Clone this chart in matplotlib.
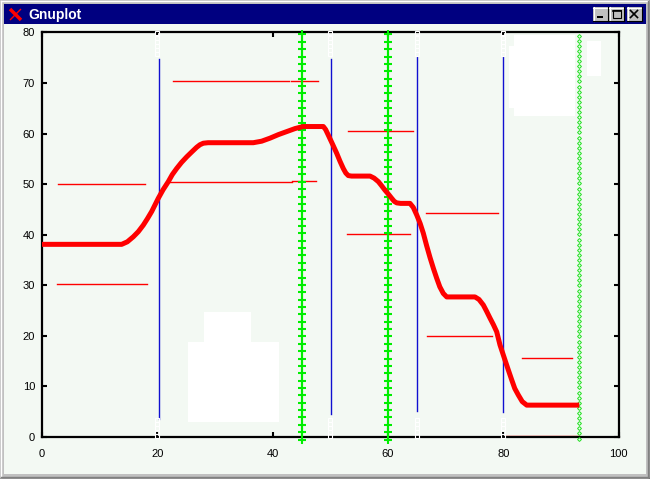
import numpy as np
import matplotlib
matplotlib.use("Agg")
import matplotlib.pyplot as plt
from matplotlib.patches import Rectangle


# thick red curve
curve_x = [0.0, 13.82, 14.8, 15.84, 16.7, 17.57, 18.3, 19.03, 20.17, 21.0, 21.91, 22.6,
           23.36, 24.2, 25.1, 26.0, 26.83, 27.4, 27.98, 28.8, 36.65, 38.1, 39.55, 41.0,
           42.45, 43.9, 45.3, 48.8, 49.2, 49.66, 50.4, 51.12, 51.7, 52.26, 52.7, 53.13,
           53.7, 56.9, 57.6, 58.34, 58.9, 59.5, 60.1, 60.66, 61.1, 61.53, 62.2, 63.83,
           64.4, 65.0, 65.6, 66.14, 66.7, 67.3, 67.9, 68.46, 69.0, 69.6, 70.2, 70.9,
           75.1, 75.8, 76.55, 77.1, 77.71, 78.3, 78.87, 79.44, 80.31, 80.9, 81.47, 82.0,
           82.62, 83.3, 84.08, 92.75]
curve_y = [38.1, 38.1, 38.6, 39.6, 40.6, 41.9, 43.2, 44.6, 47.2, 48.9, 50.5, 51.9,
           53.1, 54.3, 55.4, 56.4, 57.3, 57.8, 58.1, 58.2, 58.2, 58.5, 59.1, 59.8,
           60.4, 61.0, 61.4, 61.4, 60.8, 59.7, 57.9, 56.1, 54.5, 53.1, 52.2, 51.7,
           51.6, 51.6, 51.2, 50.5, 49.7, 48.8, 48.0, 47.2, 46.6, 46.3, 46.2, 46.2,
           45.4, 43.9, 42.2, 40.3, 37.9, 35.5, 33.3, 31.4, 29.7, 28.4, 27.7, 27.7,
           27.7, 27.2, 26.1, 24.9, 23.5, 22.2, 20.8, 18.2, 15.2, 13.2, 11.3, 9.6,
           8.3, 7.0, 6.3, 6.3]

# thin blue verticals
vline_x = [20.35, 50.15, 65.0, 80.0]
vline_top = [74.8, 74.8, 75.2, 75.2]
vline_bottom = [3.6, 4.5, 5.1, 4.9]

# white tick-like marks
mark_x = [20, 50, 65, 80]

# green verticals
green_plus_x = [45.15, 60.0]
green_dot_x = [93.2]

# thin red horizontal segments
seg_x0 = [2.7, 2.6, 22.7, 43.2, 22.2, 43.4, 53.0, 52.9, 66.6, 66.8, 83.3, 80.3]
seg_x1 = [17.8, 18.3, 42.8, 47.8, 43.4, 47.6, 64.3, 63.8, 79.05, 78.0, 91.9, 93.15]
seg_y = [50.1, 30.2, 70.35, 70.35, 50.4, 50.6, 60.5, 40.15, 44.2, 20.0, 15.55, 0.1]

xticks = [0, 20, 40, 60, 80, 100]
yticks = [0, 10, 20, 30, 40, 50, 60, 70, 80]

CLIENT = "#f3f9f3"
GRAY = "#c0c0c0"

fig = plt.figure(figsize=(6.5, 4.79), dpi=100, facecolor=GRAY)

#######################################################################################################
# window chrome, in pixel coordinates

win = fig.add_axes([0, 0, 1, 1])
win.set_xlim(0, 650)
win.set_ylim(479, 0)
win.axis("off")

win.add_patch(Rectangle((4, 24), 642, 450, color=CLIENT, lw=0))
win.add_patch(Rectangle((4, 4), 642, 20, color="#000080", lw=0))
win.plot([1, 648], [1, 1], color="white", lw=1)
win.plot([1, 1], [1, 477], color="white", lw=1)
win.plot([1, 648], [477, 477], color="#808080", lw=1)
win.plot([648, 648], [1, 477], color="#808080", lw=1)
win.plot([0, 650], [478.5, 478.5], color="black", lw=1)
win.plot([649.5, 649.5], [0, 479], color="black", lw=1)

# icon
win.plot([10, 21], [9, 20], color="red", lw=2.5, solid_capstyle="butt")
win.plot([21, 10], [9, 20], color="red", lw=1.0, solid_capstyle="butt")
win.text(28, 14.5, "Gnuplot", color="white", fontsize=10, fontweight="bold",
         family="Liberation Sans", va="center", ha="left")

# buttons
for bx in [593, 609, 627]:
    win.add_patch(Rectangle((bx, 7), 15, 14, facecolor=GRAY, edgecolor="none"))
    win.plot([bx, bx + 15], [7.5, 7.5], color="white", lw=0.8)
    win.plot([bx + 0.5, bx + 0.5], [7, 21], color="white", lw=0.8)
    win.plot([bx, bx + 15], [20.5, 20.5], color="black", lw=0.8)
    win.plot([bx + 14.5, bx + 14.5], [7, 21], color="black", lw=0.8)
win.add_patch(Rectangle((597, 16), 6, 2, color="black", lw=0))
win.add_patch(Rectangle((612.5, 10), 8, 7.5, facecolor="none", edgecolor="black", lw=0.8))
win.plot([612.5, 620.5], [10.5, 10.5], color="black", lw=1.2)
win.plot([630.5, 637.5], [10.5, 17.5], color="black", lw=1.2)
win.plot([637.5, 630.5], [10.5, 17.5], color="black", lw=1.2)

#######################################################################################################
# plot

ax = fig.add_axes([0.0646, 0.0877, 0.887, 0.8445])
ax.set_facecolor(CLIENT)
ax.set_xlim(0, 100)
ax.set_ylim(0, 80)

# white blotches
for x0, y0, w, h in [(81.9, 63.5, 10.6, 16.0), (81.0, 65.1, 1.0, 12.2), (94.5, 71.4, 2.5, 6.9),
                     (28.1, 18.8, 8.2, 5.9), (25.3, 3.0, 15.8, 15.8)]:
    ax.add_patch(Rectangle((x0, y0), w, h, color="white", lw=0, zorder=0.5))

for x, t, b in zip(vline_x, vline_top, vline_bottom):
    ax.plot([x, x], [b, t], color="#1010d0", lw=1.0, zorder=2)

for x0, x1, y in zip(seg_x0, seg_x1, seg_y):
    ax.plot([x0, x1], [y, y], color="red", lw=1.0, zorder=2, clip_on=False)

for x in green_plus_x:
    ys = np.linspace(-0.5, 79.6, 56)
    ax.plot([x] * len(ys), ys, color="#00ee00", lw=1.5, marker="+", ms=6, mew=1.5,
            zorder=3, clip_on=False)

for x in green_dot_x:
    ys = np.linspace(-0.3, 79.4, 80)
    ax.plot([x] * len(ys), ys, ls="none", marker="D", ms=2.0, mfc="none", mec="#22e022",
            mew=0.7, zorder=3, clip_on=False)

ax.plot(curve_x, curve_y, color="red", lw=3.6, solid_joinstyle="round", zorder=4)

for x in mark_x:
    top = np.arange(75.8, 80.1, 0.8)
    bot = np.arange(0.2, 4.0, 0.8)
    ys = np.concatenate([top, bot])
    ax.plot([x] * len(ys), ys, ls="none", marker="s", ms=2.6, mfc="none", mec="white",
            mew=0.8, zorder=6, clip_on=False)

for s in ax.spines.values():
    s.set_linewidth(1.6)
ax.set_xticks(xticks)
ax.set_yticks(yticks)
ax.tick_params(direction="in", length=3.8, width=1.5, top=True, right=True,
               labelsize=8, colors="black")
ax.tick_params(axis="x", pad=9)
ax.tick_params(axis="y", pad=5)
for lab in ax.get_xticklabels() + ax.get_yticklabels():
    lab.set_family("Liberation Sans")

fig.savefig("out.png", dpi=100, facecolor=GRAY)
